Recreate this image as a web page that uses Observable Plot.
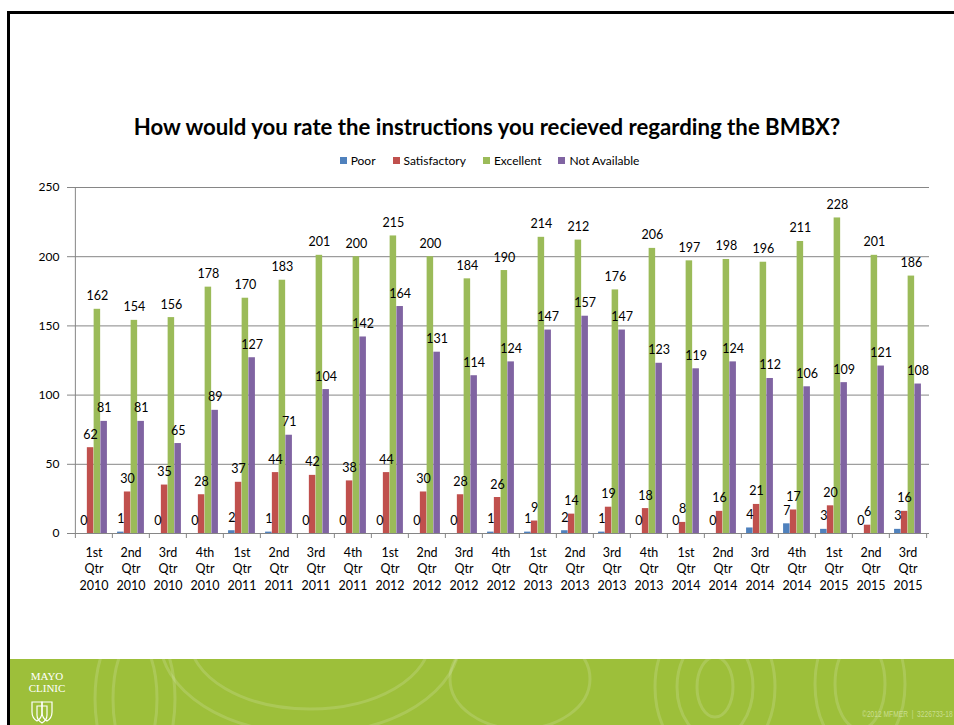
<!DOCTYPE html>
<html><head><meta charset="utf-8">
<script src="https://cdn.jsdelivr.net/npm/d3@7"></script>
<script src="https://cdn.jsdelivr.net/npm/@observablehq/plot@0.6"></script>
<style>
html,body{margin:0;padding:0;background:#fff;}
#page{position:relative;width:954px;height:725px;overflow:hidden;background:#fff;font-family:Lato,"Open Sans",sans-serif;}
#topline{position:absolute;left:7px;top:11px;width:947px;height:3px;background:#000;}
#leftline{position:absolute;left:7px;top:11px;width:3px;height:714px;background:#000;}
#title{position:absolute;left:0;width:974px;top:113px;text-align:center;font-weight:bold;font-size:22.2px;color:#000;white-space:nowrap;}
#legend{position:absolute;left:0;width:979px;top:153px;display:flex;justify-content:center;gap:17px;font-size:12px;color:#000;}
#legend .item{display:flex;align-items:center;gap:4px;}
#legend .sw{width:7px;height:7px;display:inline-block;}
#chart{position:absolute;left:0;top:170px;}
#band{position:absolute;left:10px;top:659px;width:944px;height:66px;background:#9dbf3a;overflow:hidden;}
#band svg{position:absolute;left:0;top:0;}
#logo{position:absolute;left:12px;top:11px;width:50px;text-align:center;color:#fff;font-family:"Liberation Serif","DejaVu Serif",serif;font-size:11px;line-height:12px;}
#copy{position:absolute;left:852px;top:50px;font-family:"Liberation Sans",sans-serif;font-size:9px;line-height:10px;color:#c9de8e;white-space:nowrap;transform:scaleX(0.74);transform-origin:0 0;}
</style>
</head><body>
<div id="page">
  <div id="title">How would you rate the instructions you recieved regarding the BMBX?</div>
  <div id="legend"></div>
  <div id="chart"></div>
  <div id="band">
    <svg width="944" height="66" viewBox="0 0 944 66">
      <g fill="none" stroke="#ffffff" stroke-opacity="0.15" stroke-width="3">
        <ellipse cx="125" cy="40" rx="22" ry="60"/>
        <ellipse cx="125" cy="40" rx="40" ry="80"/>
        <ellipse cx="300" cy="-20" rx="120" ry="70"/>
        <ellipse cx="300" cy="-20" rx="150" ry="95"/>
        <ellipse cx="510" cy="20" rx="70" ry="50"/>
        <ellipse cx="705" cy="28" rx="18" ry="30"/>
        <ellipse cx="705" cy="28" rx="38" ry="52"/>
        <ellipse cx="705" cy="28" rx="60" ry="78"/>
        <ellipse cx="850" cy="25" rx="25" ry="45"/>
        <ellipse cx="850" cy="25" rx="45" ry="70"/>
      </g>
      <g fill="none" stroke="#ffffff" stroke-width="1.2">
        <path d="M22 43 h10 v10 q0 6 -5 9 q-5 -3 -5 -9 z"/>
        <path d="M32 43 h10 v10 q0 6 -5 9 q-5 -3 -5 -9 z"/>
        <path d="M27 47 h10 v9 q0 5 -5 8 q-5 -3 -5 -8 z"/>
      </g>
    </svg>
    <div id="logo">MAYO<br>CLINIC</div>
    <div id="copy">©2012 MFMER &nbsp;|&nbsp; 3226733-18</div>
  </div>
  <div id="topline"></div>
  <div id="leftline"></div>
</div>
<script>
const categories = [
  "1st Qtr 2010","2nd Qtr 2010","3rd Qtr 2010","4th Qtr 2010",
  "1st Qtr 2011","2nd Qtr 2011","3rd Qtr 2011","4th Qtr 2011",
  "1st Qtr 2012","2nd Qtr 2012","3rd Qtr 2012","4th Qtr 2012",
  "1st Qtr 2013","2nd Qtr 2013","3rd Qtr 2013","4th Qtr 2013",
  "1st Qtr 2014","2nd Qtr 2014","3rd Qtr 2014","4th Qtr 2014",
  "1st Qtr 2015","2nd Qtr 2015","3rd Qtr 2015"
];
const poor         = [0,1,0,0,2,1,0,0,0,0,0,1,1,2,1,0,0,0,4,7,3,0,3];
const satisfactory = [62,30,35,28,37,44,42,38,44,30,28,26,9,14,19,18,8,16,21,17,20,6,16];
const excellent    = [162,154,156,178,170,183,201,200,215,200,184,190,214,212,176,206,197,198,196,211,228,201,186];
const notAvailable = [81,81,65,89,127,71,104,142,164,131,114,124,147,157,147,123,119,124,112,106,109,121,108];
const seriesNames  = ["Poor","Satisfactory","Excellent","Not Available"];
const seriesColors = ["#4F81BD","#C0504D","#9BBB59","#8064A2"];
const yTicks = [0,50,100,150,200,250];

const seriesValues = [poor, satisfactory, excellent, notAvailable];
const data = [];
seriesNames.forEach((s, k) => seriesValues[k].forEach((v, i) => data.push({category: categories[i], series: s, k, value: v})));

// legend
const legend = document.getElementById("legend");
seriesNames.forEach((s, k) => {
  const it = document.createElement("div"); it.className = "item";
  const sw = document.createElement("span"); sw.className = "sw"; sw.style.background = seriesColors[k];
  const tx = document.createElement("span"); tx.textContent = s;
  it.appendChild(sw); it.appendChild(tx); legend.appendChild(it);
});

const W = 954, H = 430, ML = 72, MR = 25, MT = 17, MB = 67;
const step = (W - ML - MR) / categories.length;
const bw = step / 5.5;
const off = 0.75 * bw;
const grey = "#868686";

const chart = Plot.plot({
  width: W, height: H,
  marginLeft: ML, marginRight: MR, marginTop: MT, marginBottom: MB,
  style: {fontFamily: "Lato, 'Open Sans', sans-serif", fontSize: "12px", color: "#000", background: "transparent"},
  x: {domain: categories, padding: 0},
  y: {domain: [0, 250]},
  marks: [
    Plot.gridY(yTicks, {stroke: grey, strokeOpacity: 1}),
    ...seriesNames.map((s, k) => Plot.barY(data.filter(d => d.k === k), {
      x: "category", y: "value", fill: seriesColors[k],
      insetLeft: off + k * bw, insetRight: step - off - (k + 1) * bw
    })),
    Plot.ruleY([0], {stroke: grey}),
    Plot.ruleX(categories.slice(1), {x: d => d, dx: -step / 2, stroke: grey, insetTop: H - MT - MB, insetBottom: -5}),
    Plot.ruleX(categories.slice(-1), {x: d => d, dx: step / 2, stroke: grey, insetTop: H - MT - MB, insetBottom: -5}),
    Plot.ruleX(categories.slice(0, 1), {x: d => d, dx: -step / 2, stroke: grey, insetBottom: -5}),
    Plot.axisY(yTicks, {tickSize: 5, tickPadding: 8, stroke: grey, fill: "#000", fontSize: 12, label: null}),
    Plot.axisX({tickFormat: d => d.split(" ").join("\n"), tickSize: 0, tickPadding: 12, lineHeight: 1.3, fontSize: 12.5, fill: "#000", label: null}),
    ...seriesNames.map((s, k) => Plot.text(data.filter(d => d.k === k), {
      x: "category", y: "value", text: d => String(d.value),
      dx: off + (k + 0.5) * bw - step / 2, dy: -13, fontSize: 12.5, fill: "#000"
    }))
  ]
});
document.getElementById("chart").appendChild(chart);
</script>
</body></html>
